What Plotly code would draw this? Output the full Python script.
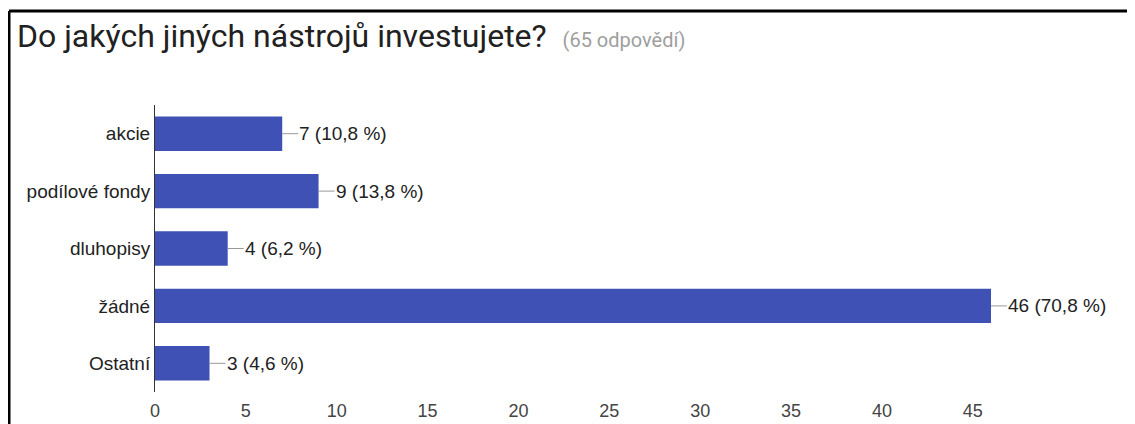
import plotly.graph_objects as go

categories = ['akcie', 'podílové fondy', 'dluhopisy', 'žádné', 'Ostatní']
counts = [7, 9, 4, 46, 3]
total = 65
tick_vals = [0, 5, 10, 15, 20, 25, 30, 35, 40, 45]

title = 'Do jakých jiných nástrojů investujete?'
subtitle = '(65 odpovědí)'

# the page body has an 8px margin, so the figure is 8px smaller than the window
OFF = 8
W, H = 1135 - OFF, 424 - OFF
L, R, T, B = 155 - OFF, 144, 105 - OFF, 32
pw, ph = W - L - R, H - T - B


def px_x(x):
    return (x - OFF - L) / pw


def px_y(y):
    return (H - B - (y - OFF)) / ph


labels = [f'{v} ({v / total * 100:.1f} %)'.replace('.', ',') for v in counts]

fig = go.Figure(go.Bar(
    x=counts, y=categories, orientation='h',
    marker=dict(color='#3f51b5', line=dict(width=0)),
    width=0.6, hoverinfo='skip',
))

for c, v, lab in zip(categories, counts, labels):
    fig.add_annotation(
        x=v, y=c, xref='x', yref='y', text=lab,
        showarrow=True, arrowhead=0, arrowwidth=1, arrowcolor='#999999',
        ax=16, ay=0, xanchor='left', borderpad=0,
        font=dict(family='Liberation Sans, Arial', size=19, color='#222222'),
    )

fig.add_annotation(
    x=px_x(15), y=px_y(36), xref='paper', yref='paper',
    xanchor='left', yanchor='middle', showarrow=False,
    text=f"{title}  <span style='font-size:20px;color:#9e9e9e'>{subtitle}</span>",
    font=dict(family='Roboto', size=32, color='#212121'),
)

# frame (cropped on the right and bottom)
fig.add_shape(type='line', xref='paper', yref='paper',
              x0=px_x(9), x1=px_x(1140), y0=px_y(11), y1=px_y(11),
              line=dict(color='black', width=3))
fig.add_shape(type='line', xref='paper', yref='paper',
              x0=px_x(9), x1=px_x(9), y0=px_y(11), y1=px_y(430),
              line=dict(color='black', width=3))

fig.update_layout(
    width=W, height=H,
    margin=dict(l=L, r=R, t=T, b=B),
    paper_bgcolor='white', plot_bgcolor='white',
    showlegend=False,
    font=dict(family='Liberation Sans, Arial', size=19, color='#222222'),
    xaxis=dict(range=[0, 46], tickvals=tick_vals, showgrid=False, zeroline=False,
               showline=False, ticks='', tickfont=dict(size=18, color='#444444'),
               ticklabelstandoff=6, automargin=False, fixedrange=True),
    yaxis=dict(autorange='reversed', showgrid=False, zeroline=False,
               showline=True, linecolor='#333333', linewidth=1, ticks='',
               tickfont=dict(size=19, color='#222222'), automargin=False,
               fixedrange=True),
)

fig.write_html('out.html')
